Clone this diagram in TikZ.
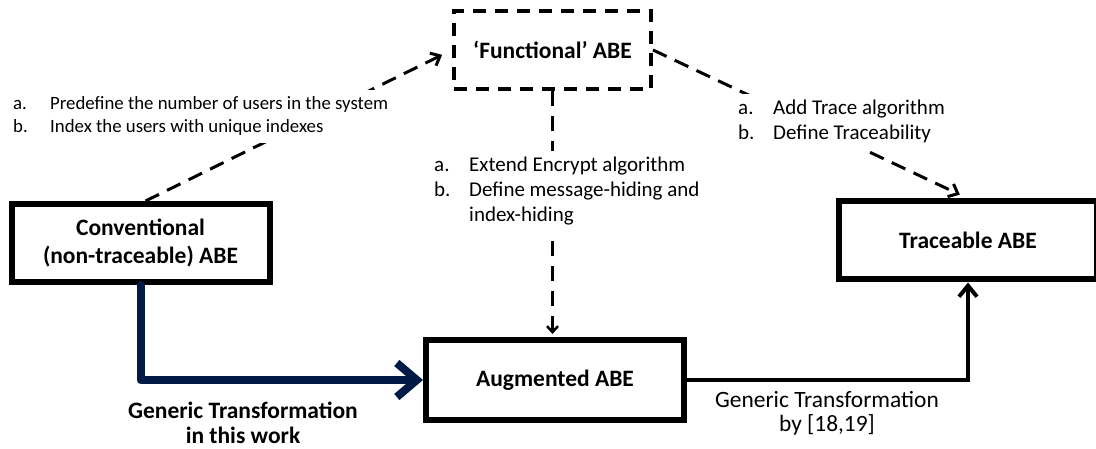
\documentclass[tikz,border=0pt]{standalone}
\usepackage{fontspec}
\setmainfont{Carlito}
\usetikzlibrary{arrows.meta}
\definecolor{navyline}{RGB}{0,27,72}

\tikzset{
	    abebox/.style={
					rectangle,
					draw=black,
					line width=6pt,
					minimum width=258pt,
					minimum height=78pt,
					inner sep=0pt,
					align=center,
					font=\fontsize{23.5}{28}\selectfont\bfseries
	    },
	    funcbox/.style={
					abebox,
					line width=4pt,
					dash pattern=on 13pt off 9pt,
					minimum width=197pt
	    },
	    notes/.style={
					fill=white,
					inner sep=3pt,
					anchor=west,
					font=\fontsize{21}{25}\selectfont
	    },
	    translabel/.style={
					inner sep=0pt,
					align=center,
					font=\fontsize{23.4}{23.5}\selectfont
	    },
	    dashline/.style={
					black,
					line width=3pt,
					dash pattern=on 15pt off 9pt,
					-{Straight Barb[length=8pt,width=14pt]}
	    },
	    vdashline/.style={
					black,
					line width=2.5pt,
					dash pattern=on 15pt off 10pt,
					-{Straight Barb[length=6pt,width=11pt]}
	    }
		}

\begin{document}
\begin{tikzpicture}[x=1pt,y=-1pt]
			\useasboundingbox (0,0) rectangle (1096,449);

			\draw (552.5,50) node[funcbox] (func) {`Functional' ABE};
			\draw (140.5,243) node[abebox] (conv) {Conventional\\(non-traceable) ABE};
			\draw (555,380) node[abebox, minimum height=80pt] (aug) {Augmented ABE};
			\draw (968,240.5) node[abebox] (trace) {Traceable ABE};

			\draw[navyline, line width=8pt, line join=round, line cap=round, -{Straight Barb[length=20pt,width=34pt]}] (conv.south) |- (aug.west);
			\draw[black, line width=4pt, -{Straight Barb[length=11pt,width=18pt]}] (aug.east) -| (trace.south);

			\draw[dashline, shorten >=11pt] ([xshift=5pt]conv.north) -- (func.west);
			\draw[dashline, shorten >=9pt] (func.east) -- (trace.north);
			\draw[vdashline, shorten >=3pt] (func.south) -- (func.south |- aug.north);

			\draw (10,116.5) node[notes, font=\fontsize{18.8}{23.5}\selectfont] (usersnote) {\begin{tabular}{@{}p{37pt}@{}l@{}}
				a. & Predefine the number of users in the system\\
				b. & Index the users with unique indexes
			\end{tabular}};
			\draw (431,192) node[notes] (encnote) {\begin{tabular}{@{}p{35pt}@{}l@{}}
				a. & Extend Encrypt algorithm\\
				b. & Define message-hiding and\\
				& index-hiding
			\end{tabular}};
			\draw (735,122.5) node[notes] (tracenote) {\begin{tabular}{@{}p{35pt}@{}l@{}}
				a. & Add Trace algorithm\\
				b. & Define Traceability
			\end{tabular}};

			\draw (243,422.5) node[translabel, font=\fontsize{23.5}{25}\selectfont\bfseries] (worklabel) {Generic Transformation\\in this work};
			\draw (827,413.5) node[translabel] (reflabel) {Generic Transformation\\by [18,19]};
		\end{tikzpicture}
\end{document}
